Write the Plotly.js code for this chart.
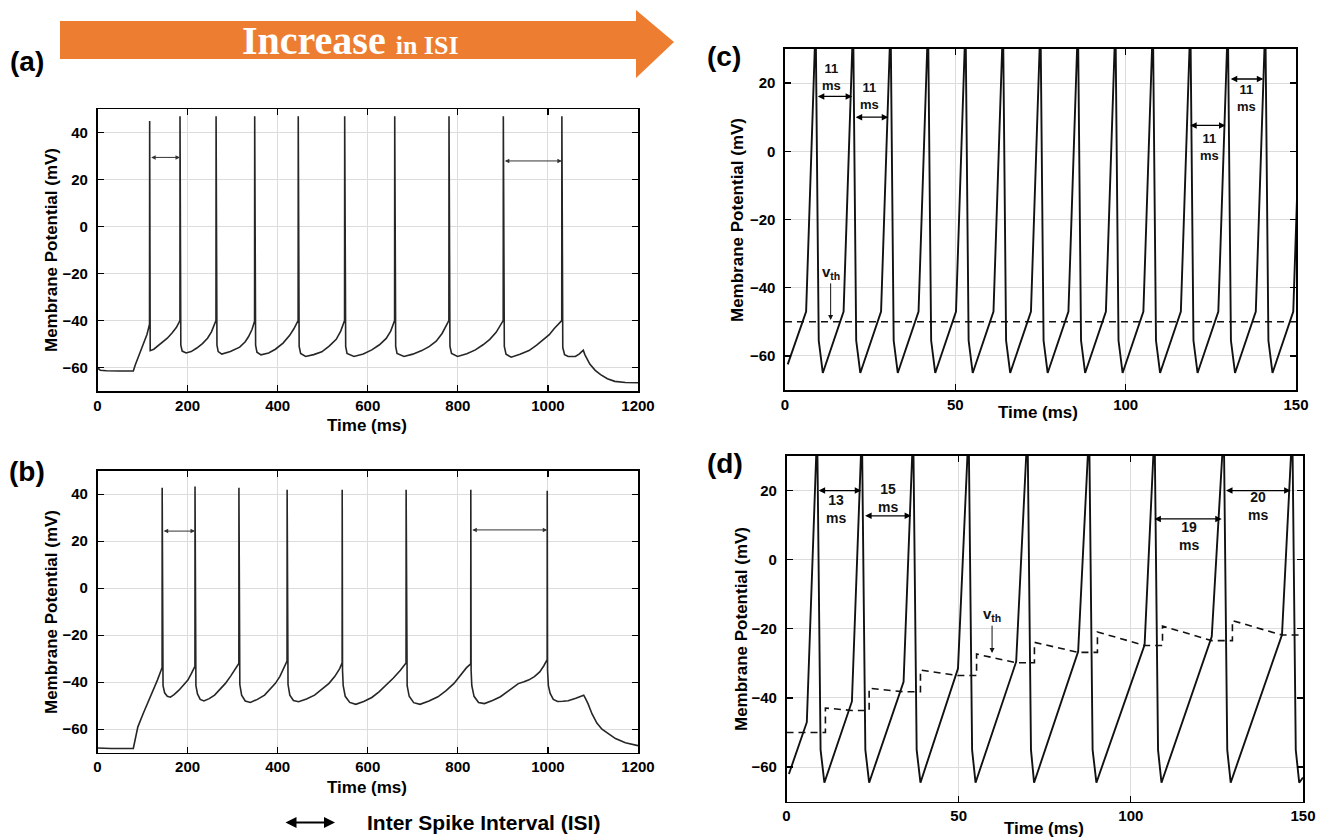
<!DOCTYPE html>
<html>
<head>
<meta charset="utf-8">
<script src="https://cdn.plot.ly/plotly-3.0.1.min.js"></script>
<style>html,body{margin:0;padding:0;background:#fff;}#chart{width:1325px;height:837px;}</style>
</head>
<body>
<div id="chart"></div>
<script>
// ---------- DATA ----------
// Panel (a): membrane potential trace (time ms, mV)
const timeA = [0,3,6,20,50,79.5,84,90,100,110,115.5,
 115.8,116.3,117,125,141,155,165,175,181,183,
 183.2,183.8,185,188,196.7,208,220.5,233,244.3,253,260,263,
 263.3,264,265.2,268,276,295,315.7,328,335.5,343,348.7,
 349,349.7,351,354,363,380,395,412,426.7,436,442.5,445.4,
 445.7,446.4,447.7,451,462,480,498,515,530,540,547,548.5,
 548.8,549.5,551,554,569.4,590,609,626,641,651,657,659.6,
 659.9,660.6,662,665,680.5,700,720,737,752,765,775.6,780.1,
 780.4,781.1,782.5,786,799.4,820,839,856,871,885,895,900.7,
 901,901.7,903.2,907,918.4,938,958,975,990,1003,1013.6,1023,1030.7,
 1031,1031.7,1033,1037,1045,1061,1070,1078.5,1082,1093,1105,1117,1132,1148.5,1172,1200];
const vA = [-60.8,-60.5,-61.2,-61.4,-61.5,-61.5,-58.8,-55.8,-51.2,-45.8,-41.5,
 45,-45,-52.8,-52.2,-49.6,-47.5,-45.4,-43,-40.8,-40,
 47,-44,-50.5,-53,-53.8,-53.2,-51.7,-49.8,-47.5,-44.8,-41.5,-40,
 47,-44,-50.5,-53.2,-54.3,-53.2,-51.3,-49,-46.8,-43.8,-40.3,
 47,-44,-50.5,-53.5,-54.6,-53.8,-52.2,-49.6,-46.3,-43.5,-41.2,-40,
 47,-44,-51,-54,-55.3,-54.5,-53.3,-50.8,-48,-44.5,-41,-40,
 47,-44,-51,-54,-55.3,-54.2,-52.5,-50.3,-47.6,-44.5,-41.3,-40,
 47,-44,-51,-54,-55.3,-54.3,-52.8,-51,-48.8,-45.5,-41.6,-40,
 47,-44,-51,-54,-55.3,-54.1,-52.5,-50.3,-48,-45,-42,-40,
 47,-44,-51,-54.3,-55.6,-54.3,-52.8,-50.5,-48,-46,-43.5,-41.5,-40,
 47,-45,-51.5,-54.5,-55.3,-55.3,-54.2,-52.6,-54.5,-58.5,-61.2,-63,-64.8,-65.9,-66.4,-66.5];

// Panel (b)
const timeB = [0,30,79.5,82,89.6,101.5,117.4,133,141,143.4,
 143.6,144.3,145.5,149,155,161.8,170,180.8,191,200.7,208,212.5,216.3,
 216.5,217.2,218.5,222,228,236.3,248,260,272,284,296,307.7,313.8,
 314,314.7,316,320,328,339.4,355,371,383,395,405,414.8,420.8,
 421,421.7,423,427,435,446.5,464,482,498,514,527,537.7,543.1,
 543.3,544,545.5,550,560,573.4,591,609,625,641,657,672.5,685,
 685.2,685.9,687.5,692,702,716,736,755.8,774,791.5,806,819.3,828.6,
 828.8,829.5,831,836,846,859,877,894.6,914,934.3,947,958,970,981.8,991,998.3,
 998.5,999.2,1001,1005,1012,1021.5,1033,1045,1062,1079.4,1083,1089,1098,1108.7,1120,1132.5,1150,1172,1200];
const vB = [-68,-68.2,-68.2,-65.5,-59,-53.3,-46.3,-39.1,-35,-33.8,
 42.7,-36,-41.5,-44.5,-46,-46.4,-45.3,-43.4,-41.3,-39.1,-36.5,-34.5,-33.3,
 43.3,-36,-41.5,-45,-47.3,-48,-47,-45.5,-43.2,-40.5,-37.3,-33.8,-32,
 42.7,-35,-41,-45.5,-48,-48.6,-47.3,-45.5,-43.2,-40.5,-37.5,-33.8,-31,
 41.9,-35,-41,-45.5,-47.8,-48.3,-47.1,-45.5,-43.2,-40.5,-37.5,-34.2,-31.8,
 41.9,-35,-41.5,-46,-48.6,-49.4,-48.2,-46.5,-44.1,-41.3,-38.2,-34.9,-31.8,
 41.9,-35,-41.5,-46,-48.7,-49.4,-48,-46.2,-43.6,-40.5,-37.2,-33.8,-32.2,
 41.9,-35,-41.5,-46,-48.6,-49.1,-47.8,-46.2,-43.5,-40.6,-39.8,-39,-37.6,-35.6,-33,-30.4,
 41.5,-35,-41.5,-44.8,-47.3,-48.2,-48.1,-47.9,-46.8,-45.5,-46.8,-49.1,-53.5,-57.4,-60,-61.8,-64,-65.8,-67];

// Panel (c): constant threshold model
const timeC = [0.8,6.2,9.0,9.9,11.1,
 17.2,20.0,20.9,22.1, 28.2,31.0,31.9,33.1, 39.2,42.0,42.9,44.1, 50.2,53.0,53.9,55.1,
 61.2,64.0,64.9,66.1, 72.2,75.0,75.9,77.1, 83.2,86.0,86.9,88.1, 94.2,97.0,97.9,99.1,
 105.2,108.0,108.9,110.1, 116.2,119.0,119.9,121.1, 127.2,130.0,130.9,132.1, 138.2,141.0,141.9,143.1,
 149.2,152.0];
const vC = [-62.5,-47,38,-55.5,-65,
 -47,38,-55.5,-65, -47,38,-55.5,-65, -47,38,-55.5,-65, -47,38,-55.5,-65,
 -47,38,-55.5,-65, -47,38,-55.5,-65, -47,38,-55.5,-65, -47,38,-55.5,-65,
 -47,38,-55.5,-65, -47,38,-55.5,-65, -47,38,-55.5,-65, -47,38,-55.5,-65,
 -47,38];
const thTimeC = [0,150];
const thC = [-50,-50];

// Panel (d): adaptive threshold model
const timeD = [0.7,5.9,8.9,9.9,11.0, 19.0,21.9,22.9,24.0, 34.0,36.8,37.8,38.9, 49.8,52.9,53.9,54.9,
 66.7,70.0,71.0,71.9, 84.7,87.9,88.9,90.0, 104.0,106.9,107.9,108.9, 123.5,127.0,128.0,129.0,
 143.9,146.9,147.9,148.9,150];
const vD = [-62,-47,38,-55,-64.5, -41,38,-55,-64.5, -35.3,38,-55,-64.5, -31.5,38,-55,-64.5,
 -29.5,38,-55,-64.5, -26.6,38,-55,-64.5, -24.6,38,-55,-64.5, -22.2,38,-55,-64.5,
 -21.7,38,-55,-64.5,-63];
const thTimeD = [0,11.3,11.3,19.0,24.0,24.0,34.0,38.9,38.9,49.8,55.2,55.2,66.7,72.0,72.0,84.7,90.3,90.3,104.0,109.2,109.2,123.5,129.5,129.5,143.9,150];
const thD = [-50,-50,-42.9,-43.6,-43.6,-37.2,-38.2,-38.2,-31.9,-33.5,-33.5,-27.3,-29.8,-29.8,-23.9,-26.8,-26.8,-20.9,-24.8,-24.8,-19.2,-23.4,-23.4,-17.6,-21.8,-21.8];

// ISI markers: [start, end, level]
const isiA = [[115.8,183.2,29.5],[901,1031,28]];
const isiB = [[143.6,216.5,24.3],[828.8,998.5,24.8]];
const isiC = [[9.2,19.7,16.1],[20.3,30.3,10.0],[118.5,129.3,7.6],[130.4,140.4,21.2]];
const isiCLabel = ['11','11','11','11'];
const isiCText = [[13.7,21.9],[24.7,16.1],[124.5,1.4],[135.4,15.5]];
const isiD = [[8.9,21.7,20],[22.4,36.2,12.7],[106.4,126.4,11.8],[127.2,146.4,20]];
const isiDLabel = ['13','15','19','20'];
const isiDText = [[14.5,14.8],[29.4,17.9],[116.8,7.0],[136.8,15.5]];
const vthC = [13.4,-49.5,-35.5];
const vthD = [59.7,-27,-15.9];

const ticksLong = [0,200,400,600,800,1000,1200];
const ticksLongV = [-60,-40,-20,0,20,40];
const ticksShort = [0,50,100,150];
const ticksShortV = [-60,-40,-20,0,20];

// ---------- LAYOUT ----------
const W = 1325, H = 837;
const P = px => px / W;
const Q = py => 1 - py / H;
const FONT = 'Liberation Sans, Arial, sans-serif';
const tickfont = {family: FONT, size: 15, color: '#000', weight: 'bold'};

function xax(dom, range, tv, anchor) {
  return {domain: dom, range: range, tickvals: tv, anchor: anchor, showgrid: true, gridcolor: '#dcdcdc', gridwidth: 1,
    showline: true, linecolor: '#000', linewidth: 1.6, mirror: 'ticks', ticks: 'inside', ticklen: 6, tickwidth: 1.3,
    tickcolor: '#000', zeroline: false, tickfont: tickfont, ticklabelstandoff: 0, fixedrange: true};
}
function yax(dom, range, tv, anchor) {
  const a = xax(dom, range, tv, anchor);
  a.ticklabelstandoff = 5;
  return a;
}

const lineAB = {color: '#262626', width: 1.6};
const lineCD = {color: '#111', width: 1.9};
const traces = [
  {x: timeA, y: vA, xaxis: 'x', yaxis: 'y', mode: 'lines', line: lineAB, hoverinfo: 'skip'},
  {x: timeB, y: vB, xaxis: 'x2', yaxis: 'y2', mode: 'lines', line: lineAB, hoverinfo: 'skip'},
  {x: thTimeC, y: thC, xaxis: 'x3', yaxis: 'y3', mode: 'lines', line: {color: '#111', width: 1.6, dash: '7px,5px'}, hoverinfo: 'skip'},
  {x: timeC, y: vC, xaxis: 'x3', yaxis: 'y3', mode: 'lines', line: lineCD, hoverinfo: 'skip'},
  {x: thTimeD, y: thD, xaxis: 'x4', yaxis: 'y4', mode: 'lines', line: {color: '#111', width: 1.6, dash: '7px,5px'}, hoverinfo: 'skip'},
  {x: timeD, y: vD, xaxis: 'x4', yaxis: 'y4', mode: 'lines', line: lineCD, hoverinfo: 'skip'}
];

const ann = [];
function isiArrow(seg, xr, yr, color, width, size) {
  ann.push({x: seg[1], y: seg[2], ax: seg[0], ay: seg[2], xref: xr, yref: yr, axref: xr, ayref: yr,
    text: '', showarrow: true, arrowhead: 2, arrowside: 'end+start', arrowsize: size, arrowwidth: width, arrowcolor: color});
}
isiA.forEach(s => isiArrow(s, 'x', 'y', '#333', 1, 0.9));
isiB.forEach(s => isiArrow(s, 'x2', 'y2', '#333', 1, 0.9));
isiC.forEach(s => isiArrow(s, 'x3', 'y3', '#000', 1.3, 1));
isiD.forEach(s => isiArrow(s, 'x4', 'y4', '#000', 1.3, 1));
const smallFont = {family: FONT, size: 13, color: '#111', weight: 'bold'};
isiCText.forEach((p, i) => ann.push({x: p[0], y: p[1], xref: 'x3', yref: 'y3', text: isiCLabel[i] + '<br>ms', showarrow: false, font: smallFont}));
isiDText.forEach((p, i) => ann.push({x: p[0], y: p[1], xref: 'x4', yref: 'y4', text: isiDLabel[i] + '<br>ms', showarrow: false, font: {family: FONT, size: 14, color: '#111', weight: 'bold'}}));
[[vthC, 'x3', 'y3'], [vthD, 'x4', 'y4']].forEach(([v, xr, yr]) => ann.push({
  x: v[0], y: v[1], ax: v[0], ay: v[2], xref: xr, yref: yr, axref: xr, ayref: yr, text: 'v<sub>th</sub>',
  showarrow: true, arrowhead: 2, arrowsize: 1, arrowwidth: 1, arrowcolor: '#111', font: {family: FONT, size: 15, color: '#111', weight: 'bold'}}));

function label(text, px, py, size, angle, extra) {
  ann.push(Object.assign({x: P(px), y: Q(py), xref: 'paper', yref: 'paper', text: text, showarrow: false,
    xanchor: 'center', yanchor: 'middle', textangle: angle || 0, font: {family: FONT, size: size, color: '#000', weight: 'bold'}}, extra || {}));
}
label('Time (ms)', 367, 425, 17);
label('Time (ms)', 367, 787, 17);
label('Time (ms)', 1038, 412, 17);
label('Time (ms)', 1044, 828, 17);
label('Membrane Potential (mV)', 51, 250, 17, -90);
label('Membrane Potential (mV)', 51, 612, 17, -90);
label('Membrane Potential (mV)', 738, 220, 17, -90);
label('Membrane Potential (mV)', 741, 629, 17, -90);
label('(a)', 27, 61, 28);
label('(b)', 27, 471, 28);
label('(c)', 724, 57, 28);
label('(d)', 725, 463, 28);
label('Inter Spike Interval (ISI)', 365, 822, 21, 0, {xanchor: 'left'});
ann.push({x: P(335), y: Q(822.5), ax: P(284), ay: Q(822.5), xref: 'paper', yref: 'paper', axref: 'paper', ayref: 'paper',
  text: '', showarrow: true, arrowhead: 2, arrowside: 'end+start', arrowsize: 1, arrowwidth: 2.2, arrowcolor: '#000'});
ann.push({x: P(350), y: Q(40), xref: 'paper', yref: 'paper', showarrow: false, xanchor: 'center', yanchor: 'middle',
  text: 'Increase <span style="font-size:26px">in ISI</span>', font: {family: 'Liberation Serif, Times New Roman, serif', size: 40, color: '#fff', weight: 'bold'}});

const arrowPath = 'M ' + [[60,21],[636,21],[636,10],[674,42],[636,78],[636,59],[60,59]].map(p => P(p[0]) + ',' + Q(p[1])).join(' L ') + ' Z';

const layout = {
  width: W, height: H, margin: {l: 0, r: 0, t: 0, b: 0}, paper_bgcolor: '#fff', plot_bgcolor: '#fff',
  showlegend: false, font: {family: FONT, color: '#000'},
  xaxis: xax([P(97.5), P(638)], [0, 1200], ticksLong, 'y'),
  yaxis: yax([Q(391), Q(109.3)], [-70, 50], ticksLongV, 'x'),
  xaxis2: xax([P(97.5), P(638)], [0, 1200], ticksLong, 'y2'),
  yaxis2: yax([Q(752.7), Q(470.7)], [-70, 50], ticksLongV, 'x2'),
  xaxis3: xax([P(785), P(1296)], [0, 150], ticksShort, 'y3'),
  yaxis3: yax([Q(390), Q(49)], [-70, 30], ticksShortV, 'x3'),
  xaxis4: xax([P(786.5), P(1303)], [0, 150], ticksShort, 'y4'),
  yaxis4: yax([Q(801.7), Q(456)], [-70, 30], ticksShortV, 'x4'),
  shapes: [{type: 'path', xref: 'paper', yref: 'paper', path: arrowPath, fillcolor: '#ED7D31', line: {width: 0}, layer: 'above'}],
  annotations: ann
};

Plotly.newPlot('chart', traces, layout, {displayModeBar: false, staticPlot: true});
</script>
</body>
</html>
